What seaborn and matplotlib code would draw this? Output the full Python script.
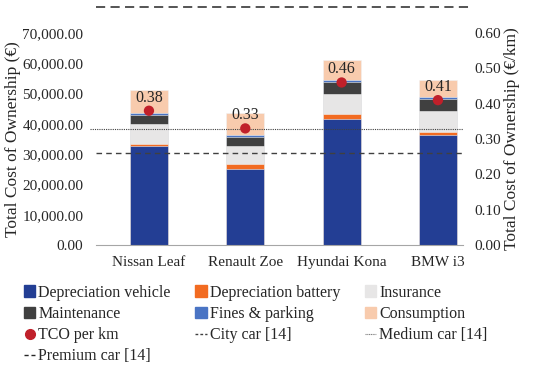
import numpy as np
import pandas as pd
import matplotlib
matplotlib.use("Agg")
import matplotlib.pyplot as plt
import seaborn as sns
from matplotlib.patches import Patch
from matplotlib.lines import Line2D

# Datos del grafico
cars = ["Nissan Leaf", "Renault Zoe", "Hyundai Kona", "BMW i3"]
dep_vehicle = [32650, 25150, 41550, 36270]
dep_battery = [650, 1450, 1650, 880]
insurance = [6820, 6140, 6820, 7030]
maintenance = [2970, 2760, 3830, 4190]
fines = [660, 670, 790, 660]
consumption = [7350, 7580, 6590, 5470]
tco_km = [0.38, 0.33, 0.46, 0.41]
ref_city, ref_medium, ref_premium = 0.26, 0.327, 0.673

components = ["Depreciation vehicle", "Depreciation battery", "Insurance",
              "Maintenance", "Fines & parking", "Consumption"]
colors = ["#233E94", "#F26B21", "#E7E6E6", "#404040", "#4A74C4", "#F8CBAD"]

df = pd.DataFrame({"car": cars, "Depreciation vehicle": dep_vehicle,
                   "Depreciation battery": dep_battery, "Insurance": insurance,
                   "Maintenance": maintenance, "Fines & parking": fines,
                   "Consumption": consumption})
cum = df[components].cumsum(axis=1)

sns.set_style("white")
plt.rcParams["font.family"] = ["Liberation Serif", "DejaVu Serif"]
plt.rcParams["font.size"] = 11

fig = plt.figure(figsize=(5.5, 3.66), dpi=100)
ax = fig.add_axes([0.1745, 0.3306, 0.6673, 0.5792])

# barras apiladas: se dibuja la suma acumulada de arriba hacia abajo
for comp, col in reversed(list(zip(components, colors))):
    sns.barplot(x=df["car"], y=cum[comp], color=col, width=0.395,
                saturation=1, ax=ax, edgecolor="#F2F2F2", linewidth=0.4)

ax.set_xlim(-0.55, 3.26)
ax.set_ylim(0, 70000)
ax.set_yticks(np.arange(0, 70001, 10000))
ax.set_yticklabels([f"{v:,.2f}" for v in np.arange(0, 70001, 10000)])
ax.set_xlabel("")
ax.set_ylabel("Total Cost of Ownership (€)", fontsize=12.5, labelpad=1)
ax.tick_params(length=0, labelsize=11, pad=9)
ax.tick_params(axis="x", pad=8)
for s in ["top", "right", "left"]:
    ax.spines[s].set_visible(False)
ax.spines["bottom"].set_color("#A6A6A6")

ax2 = ax.twinx()
ax2.set_ylim(0, 0.6)
ax2.set_yticks(np.arange(0, 0.61, 0.1))
ax2.set_yticklabels([f"{v:.2f}" for v in np.arange(0, 0.61, 0.1)])
ax2.set_ylabel("Total Cost of Ownership (€/km)", fontsize=12.5, labelpad=2)
ax2.tick_params(length=0, labelsize=11, pad=8.5)
for s in ["top", "right", "left", "bottom"]:
    ax2.spines[s].set_visible(False)

# lineas de referencia
ax2.axhline(ref_city, xmin=0, xmax=1.0, color="#404040", lw=1.0,
            ls=(0, (4, 3)), clip_on=False)
ax2.axhline(ref_medium, xmin=-0.016, xmax=1.0, color="#404040", lw=0.8,
            ls=(0, (1, 1)), clip_on=False)
ax2.axhline(ref_premium, xmin=0, xmax=1.02, color="#262626", lw=1.1,
            ls=(0, (6, 3.5)), clip_on=False)

# TCO por km
sns.scatterplot(x=np.arange(len(cars)), y=tco_km, ax=ax2, color="#C0202A",
                s=55, edgecolor="none", zorder=5)
for i, v in enumerate(tco_km):
    ax2.text(i, v + 0.037, f"{v:.2f}", ha="center", va="center", fontsize=11.5)

handles = [
    Patch(color=colors[0], label=components[0]),
    Patch(color=colors[3], label=components[3]),
    Line2D([], [], marker="o", ls="none", color="#C0202A", markersize=7,
           label="TCO per km"),
    Line2D([], [], color="#262626", ls=(0, (3, 2)), lw=1.0, label="Premium car [14]"),
    Patch(color=colors[1], label=components[1]),
    Patch(color=colors[4], label=components[4]),
    Line2D([], [], color="#404040", ls=(0, (2, 1.5)), lw=1.0, label="City car [14]"),
    Patch(color=colors[2], label=components[2]),
    Patch(color=colors[5], label=components[5]),
    Line2D([], [], color="#808080", ls=(0, (1, 0.6)), lw=0.8, label="Medium car [14]"),
]
fig.legend(handles=handles, ncol=3, loc="upper left",
           bbox_to_anchor=(0.032, 0.24), frameon=False,
           prop={"family": ["Liberation Serif"], "size": 11.5},
           handlelength=0.7, handleheight=0.7, handletextpad=0.2,
           columnspacing=1.55, labelspacing=0.33, borderaxespad=0)

fig.savefig("out.png", dpi=100)
